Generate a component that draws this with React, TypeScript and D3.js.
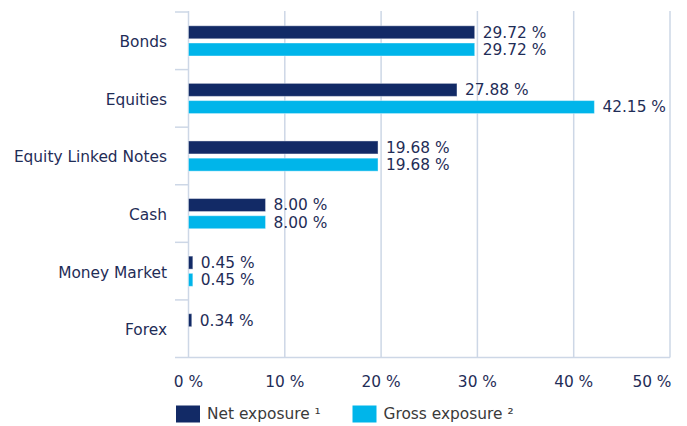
import React from "react";
import * as d3 from "d3";

const categories = ["Bonds", "Equities", "Equity Linked Notes", "Cash", "Money Market", "Forex"];
const netValues: (number | null)[] = [29.72, 27.88, 19.68, 8.0, 0.45, 0.34];
const grossValues: (number | null)[] = [29.72, 42.15, 19.68, 8.0, 0.45, null];
const xTicks = [0, 10, 20, 30, 40, 50];
const seriesNames = ["Net exposure \u00b9", "Gross exposure \u00b2"];

const W = 687, H = 426;
const NET = "#122a66";
const GROSS = "#00b5ea";
const TEXT = "#1f2d57";
const LEGEND_TEXT = "#3a3a3a";
const GRID = "#cdd7e6";
const FONT = "'DejaVu Sans', Verdana, sans-serif";
const FS = 15.4;

export default function App() {
  const left = 188.5, right = 670, top = 12, bottom = 357.5;
  const x = d3.scaleLinear().domain([0, 50]).range([left, right]);
  const y = d3.scaleBand<string>().domain(categories).range([top, bottom]);
  const bw = y.bandwidth();
  const barH = 13;
  const series = [
    { vals: netValues, color: NET, off: -8.5 },
    { vals: grossValues, color: GROSS, off: 8.7 },
  ];
  return (
    <div style={{ position: "absolute", left: 0, top: 0 }}>
      <svg width={W} height={H} style={{ display: "block" }} fontFamily={FONT}>
        {xTicks.map((t) => (
          <line key={t} x1={x(t)} x2={x(t)} y1={top - 1} y2={bottom} stroke={GRID} strokeWidth={1.5} />
        ))}
        {categories.map((c) => (
          <line key={c} x1={175} x2={left} y1={y(c)!} y2={y(c)!} stroke={GRID} strokeWidth={1.5} />
        ))}
        <line x1={175} x2={right} y1={bottom} y2={bottom} stroke={GRID} strokeWidth={1.5} />
        {categories.map((c) => (
          <text key={c} x={167} y={y(c)! + bw / 2 + 1} dy="0.35em" textAnchor="end" fontSize={FS} fill={TEXT}>
            {c}
          </text>
        ))}
        {series.map((s, si) =>
          categories.map((c, i) => {
            const v = s.vals[i];
            if (v == null) return null;
            const cy = y(c)! + bw / 2 + s.off;
            return (
              <g key={si + "-" + c}>
                <rect
                  x={x(0)}
                  y={cy - barH / 2}
                  width={Math.max(x(v) - x(0), 2.5)}
                  height={barH}
                  fill={s.color}
                  stroke="#ffffff"
                  strokeOpacity={0.4}
                  strokeWidth={1}
                />
                <text x={Math.max(x(v), x(0) + 2.5) + 8} y={cy} dy="0.35em" fontSize={FS} fill={TEXT}>
                  {v.toFixed(2) + " %"}
                </text>
              </g>
            );
          })
        )}
        {xTicks.map((t, i) => {
          const last = i === xTicks.length - 1;
          return (
            <text
              key={t}
              x={last ? x(t) + 1.5 : x(t)}
              y={381.5}
              dy="0.35em"
              textAnchor={last ? "end" : "middle"}
              fontSize={FS}
              fill={TEXT}
            >
              {t + " %"}
            </text>
          );
        })}
        {seriesNames.map((n, i) => {
          const lx = i === 0 ? 176 : 352.5;
          return (
            <g key={n}>
              <rect x={lx} y={405.5} width={24} height={17} fill={i === 0 ? NET : GROSS} />
              <text x={lx + 31} y={414} dy="0.35em" fontSize={FS} fill={LEGEND_TEXT}>
                {n}
              </text>
            </g>
          );
        })}
      </svg>
    </div>
  );
}
